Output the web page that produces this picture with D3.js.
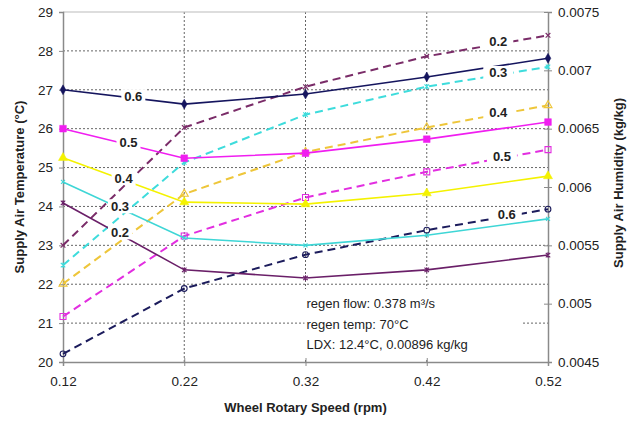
<!DOCTYPE html>
<html><head><meta charset="utf-8">
<script src="https://cdn.jsdelivr.net/npm/d3@7"></script>
<style>
html,body{margin:0;padding:0;background:#fff;}
svg{display:block;font-family:"Liberation Sans",Arial,sans-serif;}
</style></head>
<body><svg id="c" width="635" height="421"></svg>
<script>
// ---- data ----
const speeds = [0.12, 0.22, 0.32, 0.42, 0.52];
const flowLabels = ["0.6", "0.5", "0.4", "0.3", "0.2"];
const temp06 = [27.00, 26.63, 26.89, 27.33, 27.81];
const temp05 = [26.00, 25.24, 25.37, 25.73, 26.17];
const temp04 = [25.25, 24.11, 24.06, 24.34, 24.78];
const temp03 = [24.63, 23.19, 23.00, 23.26, 23.68];
const temp02 = [24.09, 22.37, 22.16, 22.37, 22.75];
const hum02 = [0.00550, 0.00651, 0.00686, 0.00712, 0.00730];
const hum03 = [0.00533, 0.00621, 0.00662, 0.00686, 0.00703];
const hum04 = [0.00517, 0.00594, 0.00630, 0.00651, 0.00670];
const hum05 = [0.00489, 0.00558, 0.00591, 0.00613, 0.00632];
const hum06 = [0.00457, 0.00513, 0.00542, 0.00563, 0.00581];
const xTicks = [0.12, 0.22, 0.32, 0.42, 0.52];
const leftTicks = [20, 21, 22, 23, 24, 25, 26, 27, 28, 29];
const rightTicks = [0.0045, 0.005, 0.0055, 0.006, 0.0065, 0.007, 0.0075];
const notes = ["regen flow: 0.378 m³/s", "regen temp: 70°C", "LDX: 12.4°C, 0.00896 kg/kg"];

// ---- layout ----
const W = 635, H = 421;
const m = {l: 63, r: 87, t: 12, b: 59};
const svg = d3.select("#c");
const x = d3.scaleLinear().domain([0.12, 0.52]).range([m.l, W - m.r]);
const yL = d3.scaleLinear().domain([20, 29]).range([H - m.b, m.t]);
const yR = d3.scaleLinear().domain([0.0045, 0.0075]).range([H - m.b, m.t]);

// custom symbols
const symX = {draw(ctx, size){ const r = Math.sqrt(size)/2; ctx.moveTo(-r,-r); ctx.lineTo(r,r); ctx.moveTo(r,-r); ctx.lineTo(-r,r);} };
const symStar = {draw(ctx, size){ const r = Math.sqrt(size)/2; ctx.moveTo(-r,-r); ctx.lineTo(r,r); ctx.moveTo(r,-r); ctx.lineTo(-r,r); ctx.moveTo(0,-r*1.2); ctx.lineTo(0,r*1.2);} };

const solid = [
  {name: flowLabels[0], v: temp06, color: "#15155e", sym: d3.symbolDiamond, size: 28, fill: true, lx: 0.178},
  {name: flowLabels[1], v: temp05, color: "#f01ef0", sym: d3.symbolSquare, size: 45, fill: true, lx: 0.174},
  {name: flowLabels[2], v: temp04, color: "#f4f200", sym: d3.symbolTriangle, size: 36, fill: true, lx: 0.170},
  {name: flowLabels[3], v: temp03, color: "#3ed6d6", sym: symX, size: 16, fill: false, lx: 0.167},
  {name: flowLabels[4], v: temp02, color: "#6a1f68", sym: symStar, size: 20, fill: false, lx: 0.167}
];
const dashed = [
  {name: flowLabels[4], v: hum02, color: "#7a2c68", sym: symX, size: 22, fill: false, lx: 0.479},
  {name: flowLabels[3], v: hum03, color: "#3edcdc", sym: symStar, size: 20, fill: false, lx: 0.479},
  {name: flowLabels[2], v: hum04, color: "#eec63a", sym: d3.symbolTriangle, size: 28, fill: false, lx: 0.479},
  {name: flowLabels[1], v: hum05, color: "#e22ee0", sym: d3.symbolSquare, size: 36, fill: false, lx: 0.482},
  {name: flowLabels[0], v: hum06, color: "#1c1c5c", sym: d3.symbolCircle, size: 26, fill: false, lx: 0.486}
];

// ---- grid ----
const grid = svg.append("g");
grid.selectAll("line.h").data(leftTicks.filter(d => d > 20 && d < 29)).join("line")
  .attr("x1", m.l).attr("x2", W - m.r).attr("y1", d => yL(d)).attr("y2", d => yL(d))
  .attr("stroke", "#666").attr("stroke-width", 1).attr("stroke-dasharray", "2,2");
grid.selectAll("line.v").data(xTicks.slice(1, -1)).join("line")
  .attr("y1", m.t).attr("y2", H - m.b).attr("x1", d => x(d)).attr("x2", d => x(d))
  .attr("stroke", "#666").attr("stroke-width", 1).attr("stroke-dasharray", "2,2");
// top border
svg.append("line").attr("x1", m.l).attr("x2", W - m.r).attr("y1", m.t).attr("y2", m.t)
  .attr("stroke", "#bbb").attr("stroke-width", 1);

// ---- annotation box ----
svg.append("rect").attr("x", x(0.32) - 1).attr("y", 289).attr("width", 218).attr("height", 70).attr("fill", "#fff");

// ---- axes ----
const fmtR = d => String(+d.toFixed(4));
const axL = svg.append("g").attr("transform", `translate(${m.l},0)`)
  .call(d3.axisLeft(yL).tickValues(leftTicks).tickSize(4).tickPadding(6).tickFormat(d3.format("d")));
const axR = svg.append("g").attr("transform", `translate(${W - m.r},0)`)
  .call(d3.axisRight(yR).tickValues(rightTicks).tickSize(4).tickPadding(6).tickFormat(fmtR));
axR.selectAll(".tick line").attr("x1", -4);
const axB = svg.append("g").attr("transform", `translate(0,${H - m.b})`)
  .call(d3.axisBottom(x).tickValues(xTicks).tickSize(4).tickPadding(10).tickFormat(d3.format(".2f")));
axB.selectAll(".tick line").attr("y1", -4);
[axL, axR, axB].forEach(a => {
  a.select(".domain").attr("stroke", "#8a8a8a").attr("stroke-width", 1.5);
  a.selectAll(".tick line").attr("stroke", "#8a8a8a");
  a.selectAll(".tick text").attr("fill", "#222").style("font-size", "13.5px").style("font-family", '"Liberation Sans",Arial,sans-serif');
});

// ---- lines ----
const gLines = svg.append("g");
function drawSeries(s, yS, dash, width){
  const pts = speeds.map((sp, i) => [x(sp), yS(s.v[i])]);
  gLines.append("path").attr("d", d3.line()(pts)).attr("fill", "none")
    .attr("stroke", s.color).attr("stroke-width", width)
    .attr("stroke-dasharray", dash || null);
  const sym = d3.symbol().type(s.sym).size(s.size);
  gLines.append("g").selectAll("path").data(pts).join("path")
    .attr("transform", d => `translate(${d[0]},${d[1]})`).attr("d", sym())
    .attr("fill", s.fill ? s.color : "none").attr("stroke", s.color).attr("stroke-width", s.fill ? 0.5 : 1.1);
}
dashed.forEach(s => drawSeries(s, yR, "8,5", 2));
solid.forEach(s => drawSeries(s, yL, null, 1.6));

// ---- line labels ----
function interp(vals, xv){
  for (let i = 0; i < speeds.length - 1; i++) {
    if (xv >= speeds[i] && xv <= speeds[i + 1]) {
      const t = (xv - speeds[i]) / (speeds[i + 1] - speeds[i]);
      return vals[i] + t * (vals[i + 1] - vals[i]);
    }
  }
  return vals[vals.length - 1];
}
const gLab = svg.append("g");
function label(s, yS, padX){
  const cx = x(s.lx), cy = yS(interp(s.v, s.lx)) - 2;
  gLab.append("rect").attr("x", cx - 9 - padX).attr("y", cy - 7).attr("width", 18 + 2 * padX).attr("height", 14).attr("fill", "#fff");
  gLab.append("text").attr("x", cx).attr("y", cy).attr("text-anchor", "middle").attr("dominant-baseline", "central")
    .attr("fill", "#222").style("font-size", "13px").style("font-weight", "bold").text(s.name);
}
solid.forEach(s => label(s, yL, 3));
dashed.forEach(s => label(s, yR, 6));

// ---- notes ----
svg.append("g").selectAll("text").data(notes).join("text")
  .attr("x", x(0.32) + 1).attr("y", (d, i) => 308 + i * 20.5)
  .attr("fill", "#222").style("font-size", "13px").text(d => d);

// ---- axis titles ----
svg.append("text").attr("transform", `translate(24,${(m.t + H - m.b) / 2}) rotate(-90)`)
  .attr("text-anchor", "middle").attr("fill", "#222").style("font-size", "13px").style("font-weight", "bold")
  .text("Supply Air Temperature (°C)");
svg.append("text").attr("transform", `translate(623,${(m.t + H - m.b) / 2 - 4}) rotate(-90)`)
  .attr("text-anchor", "middle").attr("fill", "#222").style("font-size", "13px").style("font-weight", "bold")
  .text("Supply Air Humidity (kg/kg)");
svg.append("text").attr("x", (m.l + W - m.r) / 2).attr("y", 412)
  .attr("text-anchor", "middle").attr("fill", "#222").style("font-size", "13px").style("font-weight", "bold")
  .text("Wheel Rotary Speed (rpm)");
</script></body></html>
